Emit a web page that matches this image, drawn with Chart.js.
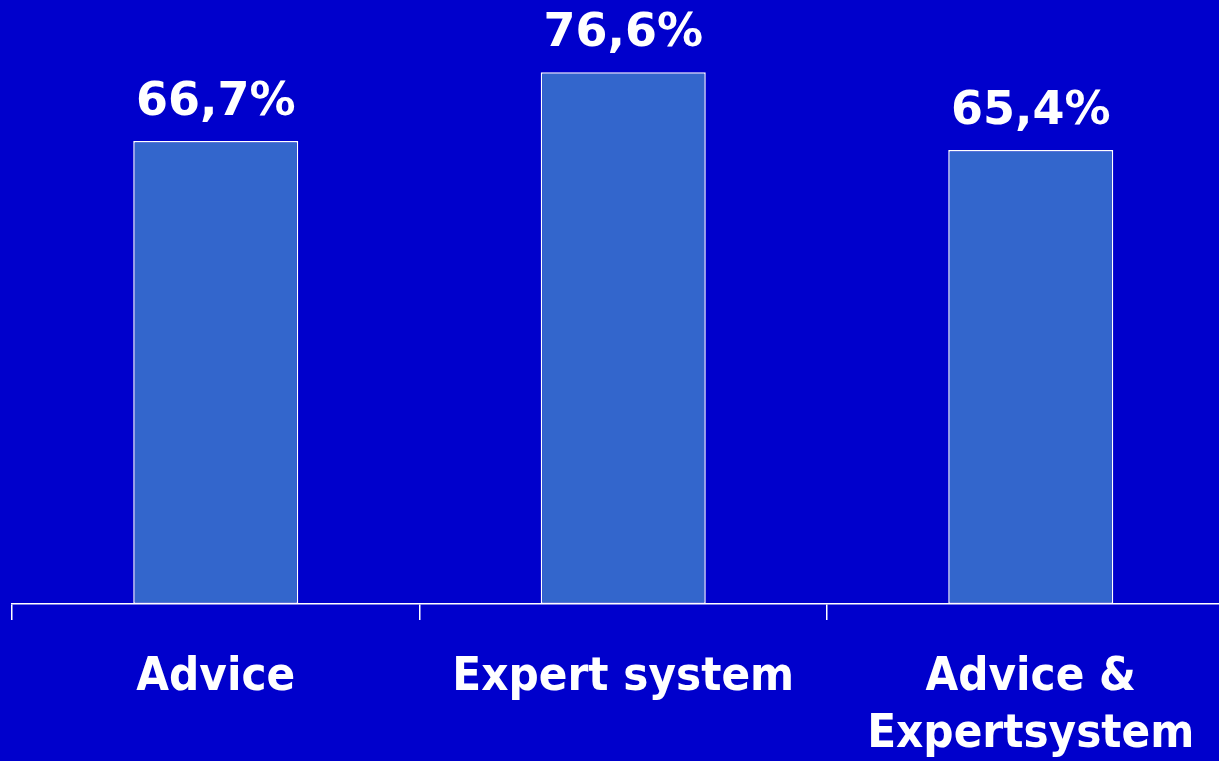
<!DOCTYPE html>
<html>
<head>
<meta charset="utf-8">
<script src="https://cdn.jsdelivr.net/npm/chart.js@4.4.1/dist/chart.umd.min.js"></script>
<style>
  html, body { margin: 0; padding: 0; background: #0000CC; overflow: hidden; }
  #wrap { width: 1219px; height: 761px; overflow: hidden; position: relative; }
  canvas { display: block; }
</style>
</head>
<body>
<div id="wrap"><canvas id="c" width="1260" height="761"></canvas></div>
<script>
const categories = ['Advice', 'Expert system', ['Advice &', 'Expertsystem']];
const shares = [66.7, 76.6, 65.4];
const valueLabels = ['66,7%', '76,6%', '65,4%'];

const VALUE_FONT = '"DejaVu Sans"';
const AXIS_FONT = '"DejaVu Sans Condensed", "DejaVu Sans"';

// Percentage labels above each bar, placed from the bar elements' positions
const barValueLabels = {
  id: 'barValueLabels',
  afterDatasetsDraw(chart) {
    const ctx = chart.ctx;
    const meta = chart.getDatasetMeta(0);
    ctx.save();
    ctx.fillStyle = '#FFFFFF';
    ctx.font = 'bold 46px ' + VALUE_FONT;
    ctx.textAlign = 'center';
    ctx.textBaseline = 'alphabetic';
    meta.data.forEach((bar, i) => {
      ctx.fillText(valueLabels[i], bar.x, bar.y - 26);
    });
    ctx.restore();
  }
};

new Chart(document.getElementById('c'), {
  type: 'bar',
  data: {
    labels: categories,
    datasets: [{
      data: shares,
      backgroundColor: '#3366CC',
      borderColor: '#FFFFFF',
      borderWidth: 1.5,
      borderSkipped: false,
      categoryPercentage: 1,
      barPercentage: 0.405
    }]
  },
  options: {
    responsive: false,
    animation: false,
    devicePixelRatio: 1,
    layout: { padding: { left: 12, right: 25.5, top: 0, bottom: 0 } },
    plugins: { legend: { display: false }, tooltip: { enabled: false } },
    scales: {
      y: { display: false, min: 0, max: 87 },
      x: {
        offset: true,
        afterFit(scale) { scale.height = 157; },
        border: { display: true, color: '#FFFFFF', width: 1.5 },
        grid: {
          offset: true,
          drawOnChartArea: false,
          drawTicks: true,
          tickLength: 16,
          color: '#FFFFFF',
          lineWidth: 1.5
        },
        ticks: {
          color: '#FFFFFF',
          padding: 29,
          maxRotation: 0,
          autoSkip: false,
          font: { family: AXIS_FONT, weight: 'bold', size: 47, lineHeight: 1.22 }
        }
      }
    }
  },
  plugins: [barValueLabels]
});
</script>
</body>
</html>
